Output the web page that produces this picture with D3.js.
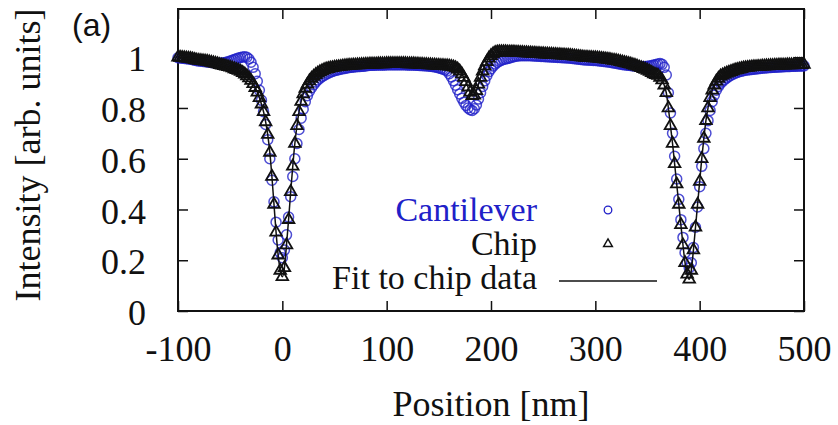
<!DOCTYPE html>
<html>
<head>
<meta charset="utf-8">
<script src="https://cdn.jsdelivr.net/npm/d3@7"></script>
<style>
  body { margin: 0; background: #fff; }
  text { font-family: "Liberation Serif", "Times New Roman", serif; }
</style>
</head>
<body>
<div id="container"></div>
<script>
// positions in nm, one sample every 2 nm
const positions = [
  -100,-98,-96,-94,-92,-90,-88,-86,-84,-82,
  -80,-78,-76,-74,-72,-70,-68,-66,-64,-62,
  -60,-58,-56,-54,-52,-50,-48,-46,-44,-42,
  -40,-38,-36,-34,-32,-30,-28,-26,-24,-22,
  -20,-18,-16,-14,-12,-10,-8,-6,-4,-2,
  0,2,4,6,8,10,12,14,16,18,
  20,22,24,26,28,30,32,34,36,38,
  40,42,44,46,48,50,52,54,56,58,
  60,62,64,66,68,70,72,74,76,78,
  80,82,84,86,88,90,92,94,96,98,
  100,102,104,106,108,110,112,114,116,118,
  120,122,124,126,128,130,132,134,136,138,
  140,142,144,146,148,150,152,154,156,158,
  160,162,164,166,168,170,172,174,176,178,
  180,182,184,186,188,190,192,194,196,198,
  200,202,204,206,208,210,212,214,216,218,
  220,222,224,226,228,230,232,234,236,238,
  240,242,244,246,248,250,252,254,256,258,
  260,262,264,266,268,270,272,274,276,278,
  280,282,284,286,288,290,292,294,296,298,
  300,302,304,306,308,310,312,314,316,318,
  320,322,324,326,328,330,332,334,336,338,
  340,342,344,346,348,350,352,354,356,358,
  360,362,364,366,368,370,372,374,376,378,
  380,382,384,386,388,390,392,394,396,398,
  400,402,404,406,408,410,412,414,416,418,
  420,422,424,426,428,430,432,434,436,438,
  440,442,444,446,448,450,452,454,456,458,
  460,462,464,466,468,470,472,474,476,478,
  480,482,484,486,488,490,492,494,496,498,
  500
];

const chipValues = [
  1.0,0.999,0.998,0.997,0.996,0.995,0.994,0.992,0.99,0.988,
  0.987,0.986,0.985,0.984,0.983,0.981,0.979,0.977,0.975,0.973,
  0.97,0.968,0.966,0.964,0.962,0.96,0.957,0.954,0.951,0.948,
  0.944,0.939,0.933,0.926,0.918,0.908,0.895,0.88,0.862,0.84,
  0.815,0.785,0.745,0.695,0.625,0.53,0.42,0.31,0.22,0.16,
  0.135,0.17,0.26,0.36,0.47,0.57,0.66,0.73,0.785,0.825,
  0.855,0.877,0.893,0.906,0.916,0.924,0.931,0.937,0.942,0.946,
  0.95,0.953,0.955,0.957,0.958,0.96,0.961,0.962,0.963,0.964,
  0.965,0.966,0.967,0.967,0.968,0.968,0.969,0.969,0.97,0.97,
  0.971,0.971,0.972,0.972,0.972,0.972,0.973,0.973,0.973,0.973,
  0.974,0.974,0.974,0.974,0.974,0.974,0.974,0.974,0.974,0.974,
  0.973,0.973,0.973,0.973,0.972,0.972,0.971,0.971,0.97,0.97,
  0.969,0.969,0.968,0.968,0.967,0.967,0.966,0.966,0.965,0.965,
  0.964,0.963,0.961,0.958,0.953,0.945,0.934,0.92,0.903,0.882,
  0.862,0.848,0.85,0.868,0.893,0.92,0.945,0.965,0.982,0.996,
  1.006,1.013,1.018,1.02,1.021,1.021,1.021,1.021,1.02,1.02,
  1.02,1.02,1.019,1.019,1.018,1.018,1.017,1.017,1.016,1.016,
  1.015,1.015,1.014,1.014,1.013,1.013,1.012,1.012,1.011,1.011,
  1.01,1.01,1.009,1.009,1.008,1.008,1.007,1.007,1.006,1.005,
  1.004,1.003,1.002,1.001,1.0,0.999,0.999,0.998,0.998,0.997,
  0.997,0.996,0.995,0.994,0.993,0.992,0.991,0.99,0.988,0.987,
  0.986,0.984,0.982,0.98,0.978,0.976,0.974,0.972,0.969,0.967,
  0.964,0.961,0.958,0.955,0.952,0.948,0.944,0.939,0.934,0.931,
  0.928,0.92,0.91,0.89,0.86,0.8,0.73,0.66,0.58,0.5,
  0.42,0.34,0.26,0.19,0.145,0.125,0.16,0.24,0.33,0.42,
  0.51,0.6,0.68,0.75,0.8,0.84,0.87,0.89,0.905,0.916,
  0.925,0.929,0.933,0.937,0.94,0.943,0.946,0.949,0.951,0.953,
  0.955,0.957,0.958,0.959,0.96,0.961,0.962,0.962,0.963,0.963,
  0.964,0.964,0.965,0.965,0.966,0.966,0.967,0.967,0.968,0.968,
  0.968,0.968,0.969,0.969,0.969,0.969,0.97,0.97,0.97,0.97,
  0.971
];

const cantileverValues = [
  0.998,0.997,0.996,0.995,0.994,0.993,0.992,0.99,0.988,0.986,
  0.985,0.984,0.983,0.982,0.981,0.98,0.979,0.978,0.977,0.976,
  0.976,0.977,0.978,0.98,0.982,0.985,0.988,0.991,0.994,0.997,
  0.999,1.001,1.002,1.0,0.993,0.98,0.96,0.935,0.905,0.87,
  0.83,0.785,0.735,0.675,0.6,0.515,0.43,0.35,0.28,0.23,
  0.21,0.24,0.3,0.37,0.45,0.53,0.6,0.66,0.715,0.76,
  0.795,0.825,0.848,0.866,0.88,0.892,0.902,0.91,0.917,0.923,
  0.928,0.933,0.937,0.941,0.944,0.947,0.949,0.951,0.953,0.955,
  0.956,0.958,0.959,0.96,0.961,0.962,0.963,0.963,0.964,0.964,
  0.966,0.967,0.968,0.968,0.968,0.969,0.969,0.969,0.969,0.969,
  0.97,0.97,0.97,0.97,0.97,0.97,0.97,0.97,0.97,0.97,
  0.969,0.969,0.969,0.969,0.968,0.968,0.967,0.967,0.966,0.966,
  0.965,0.964,0.963,0.962,0.96,0.958,0.956,0.953,0.95,0.946,
  0.935,0.922,0.907,0.89,0.872,0.855,0.838,0.823,0.81,0.8,
  0.793,0.79,0.797,0.812,0.835,0.86,0.885,0.907,0.927,0.943,
  0.955,0.965,0.973,0.979,0.984,0.988,0.991,0.993,0.995,0.997,
  1.0,1.002,1.004,1.005,1.006,1.006,1.006,1.006,1.006,1.006,
  1.005,1.005,1.004,1.004,1.003,1.003,1.002,1.002,1.001,1.001,
  1.0,1.0,0.999,0.999,0.998,0.998,0.997,0.997,0.996,0.995,
  0.994,0.993,0.992,0.991,0.99,0.989,0.989,0.988,0.988,0.987,
  0.987,0.986,0.985,0.984,0.983,0.982,0.981,0.98,0.978,0.977,
  0.976,0.974,0.973,0.971,0.97,0.969,0.968,0.967,0.966,0.965,
  0.964,0.963,0.963,0.963,0.963,0.964,0.965,0.967,0.969,0.971,
  0.973,0.975,0.972,0.96,0.93,0.86,0.78,0.7,0.61,0.52,
  0.44,0.36,0.29,0.23,0.19,0.17,0.19,0.25,0.33,0.41,
  0.49,0.57,0.64,0.7,0.75,0.79,0.825,0.85,0.87,0.885,
  0.897,0.905,0.912,0.918,0.924,0.929,0.933,0.937,0.94,0.943,
  0.945,0.947,0.949,0.95,0.951,0.952,0.953,0.954,0.955,0.956,
  0.957,0.958,0.958,0.959,0.959,0.96,0.96,0.961,0.961,0.962,
  0.962,0.963,0.963,0.963,0.964,0.964,0.964,0.965,0.965,0.965,
  0.966
];

const xTicks = [-100, 0, 100, 200, 300, 400, 500];
const yTicks = [0, 0.2, 0.4, 0.6, 0.8, 1];
const legendLabels = ["Cantilever", "Chip", "Fit to chip data"];

const blue = "#2020c8";
const ink = "#111";
const fontSize = 36;
const width = 838, height = 425;
const margin = {left: 178, right: 34, top: 9, bottom: 114};

let svg = d3.select("#container")
  .append("svg")
  .attr("width", width)
  .attr("height", height);

let x = d3.scaleLinear().domain([-100, 500]).range([margin.left, width - margin.right]);
let y = d3.scaleLinear().domain([0, 1.19]).range([height - margin.bottom, margin.top]);

// mirrored inward ticks on all four sides, plain hyphen for negatives
let tickLen = 10;
let fmt = d => String(d);

function styleTicks(g, withText) {
  g.select(".domain").remove();
  g.selectAll("line").attr("stroke", ink).attr("stroke-width", 1.5);
  if (withText) {
    g.selectAll("text")
      .attr("font-size", fontSize)
      .attr("font-family", "Liberation Serif")
      .attr("fill", ink);
  }
}

svg.append("g")
  .attr("transform", "translate(0," + y(0) + ")")
  .call(d3.axisBottom(x).tickValues(xTicks).tickSizeInner(-tickLen).tickSizeOuter(0).tickPadding(24).tickFormat(fmt))
  .call(g => styleTicks(g, true));

svg.append("g")
  .attr("transform", "translate(0," + y(1.19) + ")")
  .call(d3.axisTop(x).tickValues(xTicks).tickSizeInner(-tickLen).tickSizeOuter(0).tickFormat(""))
  .call(g => styleTicks(g, false));

svg.append("g")
  .attr("transform", "translate(" + x(-100) + ",0)")
  .call(d3.axisLeft(y).tickValues(yTicks).tickSizeInner(-tickLen).tickSizeOuter(0).tickPadding(32).tickFormat(fmt))
  .call(g => styleTicks(g, true))
  .call(g => g.selectAll("text").attr("dy", "0.38em"));

svg.append("g")
  .attr("transform", "translate(" + x(500) + ",0)")
  .call(d3.axisRight(y).tickValues(yTicks).tickSizeInner(-tickLen).tickSizeOuter(0).tickFormat(""))
  .call(g => styleTicks(g, false));

// frame
svg.append("rect")
  .attr("x", x(-100))
  .attr("y", y(1.19))
  .attr("width", x(500) - x(-100))
  .attr("height", y(0) - y(1.19))
  .attr("fill", "none")
  .attr("stroke", ink)
  .attr("stroke-width", 2);

let cantilever = positions.map((p, i) => ({x: p, y: cantileverValues[i]}));
let chip = positions.map((p, i) => ({x: p, y: chipValues[i]}));

// cantilever circles
svg.append("g")
  .selectAll("circle")
  .data(cantilever)
  .enter().append("circle")
    .attr("cx", d => x(d.x))
    .attr("cy", d => y(d.y))
    .attr("r", 5)
    .attr("fill", "none")
    .attr("stroke", blue)
    .attr("stroke-width", 1.5)
    .attr("stroke-opacity", 0.8);

// chip triangles
let tri = d3.symbol().type(d3.symbolTriangle).size(58);
svg.append("g")
  .selectAll("path")
  .data(chip)
  .enter().append("path")
    .attr("d", tri)
    .attr("transform", d => "translate(" + x(d.x) + "," + y(d.y) + ")")
    .attr("fill", "none")
    .attr("stroke", ink)
    .attr("stroke-width", 1.8);

// fit line
let line = d3.line()
  .x(d => x(d.x))
  .y(d => y(d.y))
  .curve(d3.curveMonotoneX);

svg.append("path")
  .datum(chip)
  .attr("d", line)
  .attr("fill", "none")
  .attr("stroke", ink)
  .attr("stroke-width", 1.5);

// legend (slightly smaller type so the stacked rows don't collide)
let legend = svg.append("g");
let legendY = [221, 255, 289];
legend.selectAll("text")
  .data(legendLabels)
  .enter().append("text")
    .attr("x", 537)
    .attr("y", (d, i) => legendY[i])
    .attr("text-anchor", "end")
    .attr("font-size", 34)
    .attr("fill", (d, i) => i === 0 ? blue : ink)
    .text(d => d);

legend.append("circle")
  .attr("cx", 608).attr("cy", 210).attr("r", 3.8)
  .attr("fill", "none").attr("stroke", blue).attr("stroke-width", 1.3);

legend.append("path")
  .attr("d", d3.symbol().type(d3.symbolTriangle).size(34))
  .attr("transform", "translate(608,244)")
  .attr("fill", "none").attr("stroke", ink).attr("stroke-width", 1.4);

legend.append("line")
  .attr("x1", 559).attr("x2", 657)
  .attr("y1", 281).attr("y2", 281)
  .attr("stroke", ink).attr("stroke-width", 1.4);

// axis titles
svg.append("text")
  .attr("x", (x(-100) + x(500)) / 2)
  .attr("y", 416)
  .attr("text-anchor", "middle")
  .attr("font-size", fontSize)
  .attr("fill", ink)
  .text("Position [nm]");

svg.append("text")
  .attr("transform", "translate(40,155) rotate(-90)")
  .attr("text-anchor", "middle")
  .attr("font-size", fontSize)
  .attr("fill", ink)
  .text("Intensity [arb. units]");

svg.append("text")
  .attr("x", 72)
  .attr("y", 36)
  .attr("font-size", 32)
  .attr("fill", ink)
  .style("font-family", "Liberation Sans, Arial, sans-serif")
  .text("(a)");
</script>
</body>
</html>
